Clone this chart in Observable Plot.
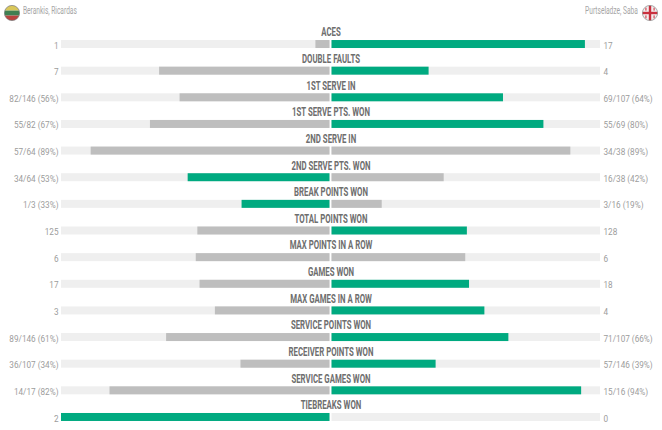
<!DOCTYPE html>
<html><head><meta charset="utf-8">
<script src="https://cdn.jsdelivr.net/npm/d3@7"></script>
<script src="https://cdn.jsdelivr.net/npm/@observablehq/plot@0.6"></script>
<style>
html,body{margin:0;padding:0;background:#fff;}
#wrap{position:relative;width:662px;height:430px;overflow:hidden;}
.hd{position:absolute;top:5px;height:16px;line-height:16px;font:10px Roboto,sans-serif;color:#a6a6a6;white-space:nowrap;}
.fl{position:absolute;top:5px;width:16px;height:16px;}
svg{display:block;}
</style></head><body>
<div id="wrap">
<svg class="fl" style="left:4px" viewBox="0 0 16 16"><defs><clipPath id="c1"><circle cx="8" cy="8" r="7.6"/></clipPath></defs><g clip-path="url(#c1)"><rect width="16" height="5.6" fill="#d9c75a"/><rect y="5.6" width="16" height="5" fill="#3f7f52"/><rect y="10.6" width="16" height="5.4" fill="#b8433f"/></g><circle cx="8" cy="8" r="7.6" fill="none" stroke="#777" stroke-width=".7"/></svg>
<div class="hd" style="left:23px;transform:scaleX(.66);transform-origin:left center">Berankis, Ricardas</div>
<div class="hd" style="right:24px;transform:scaleX(.66);transform-origin:right center">Purtseladze, Saba</div>
<svg class="fl" style="left:642px" viewBox="0 0 16 16"><defs><clipPath id="c2"><circle cx="8" cy="8" r="7.6"/></clipPath></defs><g clip-path="url(#c2)"><rect width="16" height="16" fill="#f2eeee"/><rect x="6.8" width="2.4" height="16" fill="#c9303e"/><rect y="6.8" width="16" height="2.4" fill="#c9303e"/><g fill="#d8606a"><rect x="3.2" y="2.6" width="1.4" height="3"/><rect x="11.4" y="2.6" width="1.4" height="3"/><rect x="3.2" y="10.4" width="1.4" height="3"/><rect x="11.4" y="10.4" width="1.4" height="3"/></g></g><circle cx="8" cy="8" r="7.6" fill="none" stroke="#888" stroke-width=".7"/></svg>
<div id="chart"></div>
</div>
<script>
const metrics = ["ACES","DOUBLE FAULTS","1ST SERVE IN","1ST SERVE PTS. WON","2ND SERVE IN","2ND SERVE PTS. WON","BREAK POINTS WON","TOTAL POINTS WON","MAX POINTS IN A ROW","GAMES WON","MAX GAMES IN A ROW","SERVICE POINTS WON","RECEIVER POINTS WON","SERVICE GAMES WON","TIEBREAKS WON"];
const leftLabels = ["1","7","82/146 (56%)","55/82 (67%)","57/64 (89%)","34/64 (53%)","1/3 (33%)","125","6","17","3","89/146 (61%)","36/107 (34%)","14/17 (82%)","2"];
const rightLabels = ["17","4","69/107 (64%)","55/69 (80%)","34/38 (89%)","16/38 (42%)","3/16 (19%)","128","6","18","4","71/107 (66%)","57/146 (39%)","15/16 (94%)","0"];
const leftShare = [5.6,63.6,56,67,89,53,33,49.4,50,48.6,42.9,61,33.4,82,100];
const rightShare = [94.4,36.4,64,79,89,42,19,50.6,50,51.4,57.1,66,39,93,0];
const leftWinner = [0,0,0,0,0,1,1,0,0,0,0,0,0,0,1];
const rightWinner = [1,1,1,1,0,0,0,1,0,1,1,1,1,1,0];

const GREEN="#00aa80", GREY="#bebebe", TRACK="#efefef";
const font='Roboto,sans-serif';
const rows = metrics.map((m,i)=>({m,ll:leftLabels[i],rl:rightLabels[i],l:leftShare[i],r:rightShare[i],lw:leftWinner[i],rw:rightWinner[i]}));

const plot = Plot.plot({
  width:662,height:430,margin:0,
  style:{background:"transparent",overflow:"visible"},
  x:{domain:[-100,100],range:[61,600],axis:null},
  y:{type:"band",domain:metrics,range:[30.7,430.3],paddingInner:0.7,paddingOuter:0.35,align:0.5,round:false,axis:null},
  marks:[
    Plot.barX(rows,{y:"m",x1:-100,x2:0,fill:TRACK,insetRight:1}),
    Plot.barX(rows,{y:"m",x1:0,x2:100,fill:TRACK,insetLeft:1}),
    Plot.barX(rows,{y:"m",x1:d=>-d.l,x2:0,fill:d=>d.lw?GREEN:GREY,insetRight:1}),
    Plot.barX(rows,{y:"m",x1:0,x2:d=>d.r,fill:d=>d.rw?GREEN:GREY,insetLeft:1}),
    Plot.text(rows,{y:"m",x:0,text:"m",dy:-12,fontSize:12,fontWeight:700,fontFamily:font,fill:"#6e6e6e",textAnchor:"middle",className:"ttl"}),
    Plot.text(rows,{y:"m",x:-100,text:"ll",dx:-3,dy:1,fontSize:9.5,fontFamily:font,fill:"#9c9c9c",textAnchor:"end",className:"lab"}),
    Plot.text(rows,{y:"m",x:100,text:"rl",dx:3,dy:1,fontSize:9.5,fontFamily:font,fill:"#9c9c9c",textAnchor:"start",className:"lab"})
  ]
});
document.getElementById("chart").appendChild(plot);
// Condense the installed font to the reference's narrow lettering.
plot.querySelectorAll("g.ttl text").forEach(t=>{t.setAttribute("lengthAdjust","spacingAndGlyphs");t.setAttribute("textLength",t.getComputedTextLength()*0.65);});
plot.querySelectorAll("g.lab text").forEach(t=>{t.setAttribute("lengthAdjust","spacingAndGlyphs");t.setAttribute("textLength",t.getComputedTextLength()*0.86);});
</script>
</body></html>
